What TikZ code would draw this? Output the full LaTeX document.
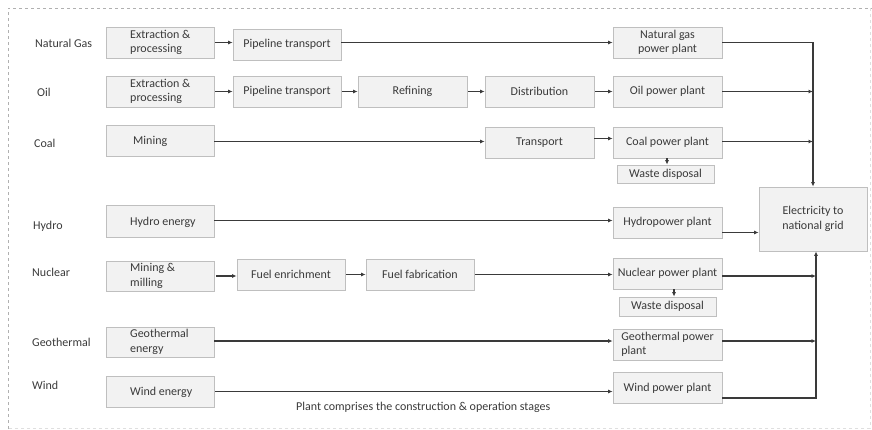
\documentclass[tikz,border=0pt]{standalone}
\usepackage{fontspec}
\setmainfont{Carlito}
\usetikzlibrary{arrows.meta,calc}
\definecolor{ink}{HTML}{3A3A3A}
\definecolor{boxfill}{HTML}{F2F2F2}
\definecolor{boxedge}{HTML}{BFBFBF}
\definecolor{frame}{HTML}{B0B0B0}
\begin{document}
\begin{tikzpicture}[x=1pt,y=-1pt,
  every node/.style={font=\fontsize{12}{14.5}\selectfont,text=ink},
  stage/.style={draw=boxedge,fill=boxfill,line width=0.8pt,inner sep=0pt,
                minimum width=108pt,minimum height=31pt,align=center},
  small/.style={stage,minimum width=97pt,minimum height=18pt},
  tag/.style={anchor=west,inner sep=0pt,align=left},
  flow/.style={draw=ink,line width=1.3pt,-{Latex[length=4.5pt,width=4pt]}}]
\useasboundingbox (0,0) rectangle (872,429);

% outer dashed frame
\draw[frame,dashed,line width=0.6pt] (8,429) -- (8,8) -- (872,8);
\draw[frame!40,dashed,line width=0.5pt] (870,8) -- (870,428) -- (8,428);

% fuel labels
\node[tag] (lng)  at (35,43)  {Natural Gas};
\node[tag] (loil) at (37,92)  {Oil};
\node[tag] (lcoal) at (34,143) {Coal};
\node[tag] (lhyd) at (33,226) {Hydro};
\node[tag] (lnuc) at (32,272) {Nuclear};
\node[tag] (lgeo) at (32,342) {Geothermal};
\node[tag] (lwind) at (32,385) {Wind};

% first stage (text set flush left inside the box)
\node[stage] (ng1)   at (160,42.5)  {};
\node[stage] (oil1)  at (160,91.5)  {};
\node[stage] (coal1) at (160,140.5) {};
\node[stage,minimum height=32pt] (hyd1) at (160,221.5) {};
\node[stage,minimum height=30pt] (nuc1) at (160,276) {};
\node[stage,minimum height=30pt] (geo1) at (160,342) {};
\node[stage] (wind1) at (160,391.5) {};
\node[tag] (tng1)   at (130,42.5)  {Extraction \&\\processing};
\node[tag] (toil1)  at (130,91.5)  {Extraction \&\\processing};
\node[tag] (tcoal1) at (133,141)   {Mining};
\node[tag] (thyd1)  at (130,222)   {Hydro energy};
\node[tag] (tnuc1)  at (130,276)   {Mining \&\\milling};
\node[tag] (tgeo1)  at (130,342)   {Geothermal\\energy};
\node[tag] (twind1) at (130,392)   {Wind energy};

% intermediate stages
\node[stage] (ng2)  at (287,44.5) {Pipeline transport};
\node[stage] (oil2) at (287,91.5) {Pipeline transport};
\node[stage,minimum width=109pt] (ref)  at (412.5,91.5) {Refining};
\node[stage,minimum width=109pt] (dist) at (539.5,91.5) {Distribution};
\node[stage,minimum width=109pt] (trans) at (539.5,142.5) {Transport};
\node[stage] (enr) at (291,274.5) {Fuel enrichment};
\node[stage] (fab) at (420,274.5) {Fuel fabrication};

% power plants
\node[stage,minimum width=109pt] (ngp)   at (667.5,42.5)  {Natural gas\\power plant};
\node[stage,minimum width=109pt] (oilp)  at (667.5,91.5)  {Oil power plant};
\node[stage,minimum width=109pt] (coalp) at (667.5,142.5) {Coal power plant};
\node[stage,minimum width=109pt] (hydp)  at (667.5,222.5) {Hydropower plant};
\node[stage,minimum width=109pt] (nucp)  at (667.5,273.5) {Nuclear power plant};
\node[stage,minimum width=109pt,align=left] (geop) at (667.5,344.5) {Geothermal power\\plant};
\node[stage,minimum width=109pt] (windp) at (667.5,388)   {Wind power plant};

% waste streams
\node[small] (waste1) at (665.5,174)   {Waste disposal};
\node[small,minimum height=19pt] (waste2) at (667.5,306.5) {Waste disposal};

% grid
\node[stage,minimum height=64pt] (grid) at (813,219) {Electricity to\\national grid};

% note
\node[tag] (note) at (296,407) {Plant comprises the construction \& operation stages};

% natural gas chain
\draw[flow] ([xshift=1pt]ng1.east) -- (ng1.east -| ng2.west);
\draw[flow] ([yshift=2pt]ng2.east) -- ([yshift=2pt]ng2.east -| ngp.west);
% oil chain
\draw[flow] ([xshift=1pt]oil1.east) -- (oil2.west);
\draw[flow] ([xshift=1pt]oil2.east) -- (ref.west);
\draw[flow] ([xshift=1pt]ref.east) -- (dist.west);
\draw[flow] ([xshift=1pt]dist.east) -- (oilp.west);
% coal chain
\draw[flow] ([yshift=-1pt]coal1.east) -- ([yshift=-1pt]coal1.east -| trans.west);
\draw[flow] ([yshift=4pt]trans.east) -- ([yshift=4pt]trans.east -| coalp.west);
\draw[flow] ([xshift=-0.5pt]coalp.south) -- ([xshift=-0.5pt]coalp.south |- waste1.north);
% hydro
\draw[flow] ([yshift=1pt]hyd1.east) -- ([yshift=1pt]hyd1.east -| hydp.west);
% nuclear chain
\draw[flow] ([xshift=2pt]nuc1.east) -- (nuc1.east -| enr.west);
\draw[flow] ([xshift=1pt]enr.east) -- (fab.west);
\draw[flow] ([xshift=1pt]fab.east) -- (fab.east -| nucp.west);
\draw[flow] ([xshift=6.5pt]nucp.south) -- ([xshift=6.5pt]nucp.south |- waste2.north);
% geothermal and wind
\draw[flow] ([yshift=1pt]geo1.east) -- ([yshift=1pt]geo1.east -| geop.west);
\draw[flow] ([xshift=1pt]wind1.east) -- (wind1.east -| windp.west);

% collection into the grid from above
\draw[flow] (ngp.east) -| (grid.north);
\draw[flow] (oilp.east) -- (oilp.east -| grid.north);
\draw[flow] ([yshift=1pt]coalp.east) -- ([yshift=1pt]coalp.east -| grid.north);
\draw[flow] ([yshift=-10pt]hydp.east) -- ([yshift=-10pt]hydp.east -| grid.west);
% collection into the grid from below
\draw[flow] ([yshift=-10pt]windp.east) -| ([xshift=3pt]grid.south);
\draw[flow] ([yshift=-2.5pt]nucp.east) -- ([yshift=-2.5pt,xshift=3pt]nucp.east -| grid.south);
\draw[flow] ([yshift=3.5pt]geop.east) -- ([yshift=3.5pt,xshift=3pt]geop.east -| grid.south);
\end{tikzpicture}
\end{document}
